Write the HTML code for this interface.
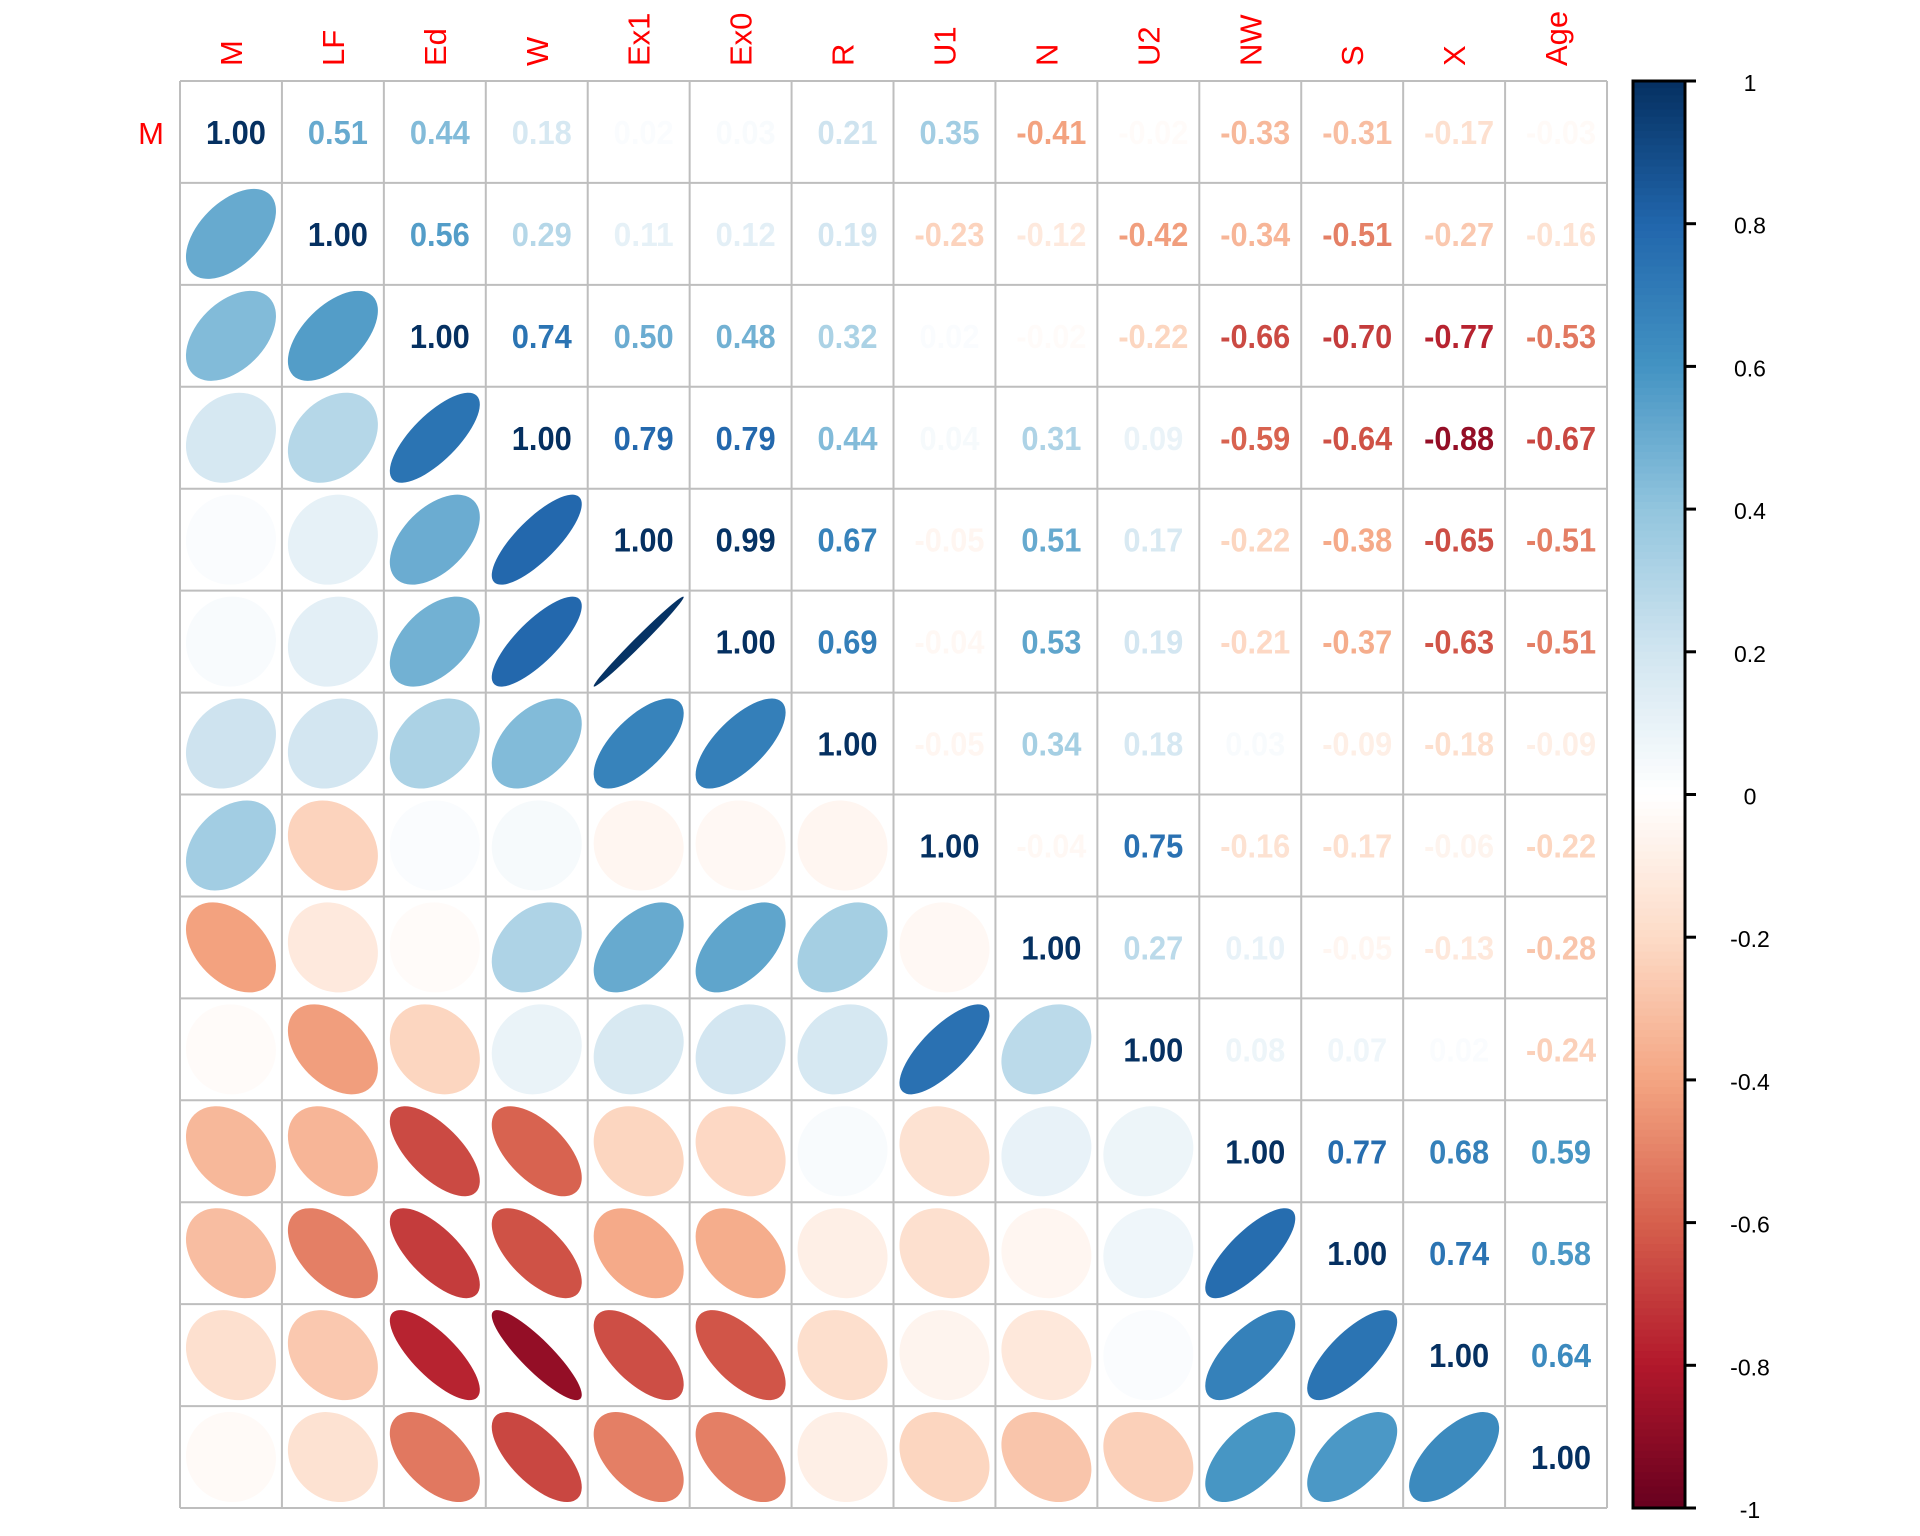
<!DOCTYPE html>
<html><head><meta charset="utf-8"><style>
html,body{margin:0;padding:0;background:#fff;width:1920px;height:1536px;overflow:hidden}
svg{display:block}
</style></head><body>
<svg id="s" width="1920" height="1536" xmlns="http://www.w3.org/2000/svg"></svg>
<script>
const V=["M","LF","Ed","W","Ex1","Ex0","R","U1","N","U2","NW","S","X","Age"];
const U=[
[1,.51,.44,.18,.02,.03,.21,.35,-.41,-.02,-.33,-.31,-.17,-.03],
[0,1,.56,.29,.11,.12,.19,-.23,-.12,-.42,-.34,-.51,-.27,-.16],
[0,0,1,.74,.50,.48,.32,.02,-.02,-.22,-.66,-.70,-.77,-.53],
[0,0,0,1,.79,.79,.44,.04,.31,.09,-.59,-.64,-.88,-.67],
[0,0,0,0,1,.99,.67,-.05,.51,.17,-.22,-.38,-.65,-.51],
[0,0,0,0,0,1,.69,-.04,.53,.19,-.21,-.37,-.63,-.51],
[0,0,0,0,0,0,1,-.05,.34,.18,.03,-.09,-.18,-.09],
[0,0,0,0,0,0,0,1,-.04,.75,-.16,-.17,-.06,-.22],
[0,0,0,0,0,0,0,0,1,.27,.10,-.05,-.13,-.28],
[0,0,0,0,0,0,0,0,0,1,.08,.07,.02,-.24],
[0,0,0,0,0,0,0,0,0,0,1,.77,.68,.59],
[0,0,0,0,0,0,0,0,0,0,0,1,.74,.58],
[0,0,0,0,0,0,0,0,0,0,0,0,1,.64],
[0,0,0,0,0,0,0,0,0,0,0,0,0,1]];
const P=["#67001F","#B2182B","#D6604D","#F4A582","#FDDBC7","#FFFFFF","#D1E5F0","#92C5DE","#4393C3","#2166AC","#053061"];
function hx(h){return [1,3,5].map(i=>parseInt(h.substr(i,2),16));}
function col(r){let t=(r+1)/2*10;let i=Math.min(9,Math.floor(t));let f=t-i;let a=hx(P[i]),b=hx(P[i+1]);
return "rgb("+a.map((v,k)=>Math.round(v+(b[k]-v)*f)).join(",")+")";}
const X0=180,Y0=81,C=101.93,R=45;
let o="";
for(let i=0;i<14;i++)for(let j=0;j<14;j++){
 const cx=X0+C*(j+.5),cy=Y0+C*(i+.5);
 if(j>=i){const r=U[i][j];
  o+=`<text x="${cx+5}" y="${cy+12}" text-anchor="middle" font-family="Liberation Sans, sans-serif" font-weight="bold" font-size="33" textLength="${r<0?70:60}" lengthAdjust="spacingAndGlyphs" fill="${col(r)}">${r<0?"-":""}${Math.abs(r).toFixed(2)}</text>`;}
 else{const r=U[j][i];const a=R*Math.sqrt(1+r),b=R*Math.sqrt(Math.max(1-r,0.0004));
  o+=`<ellipse cx="${cx}" cy="${cy}" rx="${a}" ry="${b}" transform="rotate(-45 ${cx} ${cy})" fill="${col(r)}"/>`;}
}
for(let k=0;k<=14;k++){const p=X0+C*k,q=Y0+C*k;
 o+=`<line x1="${p}" y1="${Y0}" x2="${p}" y2="${Y0+C*14}" stroke="#bebebe" stroke-width="2"/>`;
 o+=`<line x1="${X0}" y1="${q}" x2="${X0+C*14}" y2="${q}" stroke="#bebebe" stroke-width="2"/>`;}
for(let j=0;j<14;j++){const cx=X0+C*(j+.5)+11;
 o+=`<text transform="translate(${cx},66) rotate(-90)" font-family="Liberation Sans, sans-serif" font-size="31" fill="#ff0000">${V[j]}</text>`;}
o+=`<text x="164" y="144" text-anchor="end" font-family="Liberation Sans, sans-serif" font-size="31" fill="#ff0000">M</text>`;
const B0=81,B1=1508,bx=1633,bw=52;
const n=200,h=(B1-B0)/n;
for(let k=0;k<n;k++){const r=1-(k+.5)/n*2;o+=`<rect x="${bx}" y="${B0+k*h}" width="${bw}" height="${h+0.6}" fill="${col(r)}"/>`;}
o+=`<rect x="${bx}" y="${B0}" width="${bw}" height="${B1-B0}" fill="none" stroke="#000" stroke-width="3"/>`;
for(let k=0;k<=10;k++){const v=1-k*0.2;const y=B0+(B1-B0)*k/10;
 o+=`<line x1="${bx+bw}" y1="${y}" x2="${bx+bw+11}" y2="${y}" stroke="#000" stroke-width="3"/>`;
 let lab=Math.abs(v)<1e-9?"0":(Math.abs(Math.abs(v)-1)<1e-9?(v<0?"-1":"1"):v.toFixed(1));
 o+=`<text x="1750" y="${y+10}" text-anchor="middle" font-family="Liberation Sans, sans-serif" font-size="23" fill="#000">${lab}</text>`;}
document.getElementById("s").innerHTML=o;
</script>
</body></html>
